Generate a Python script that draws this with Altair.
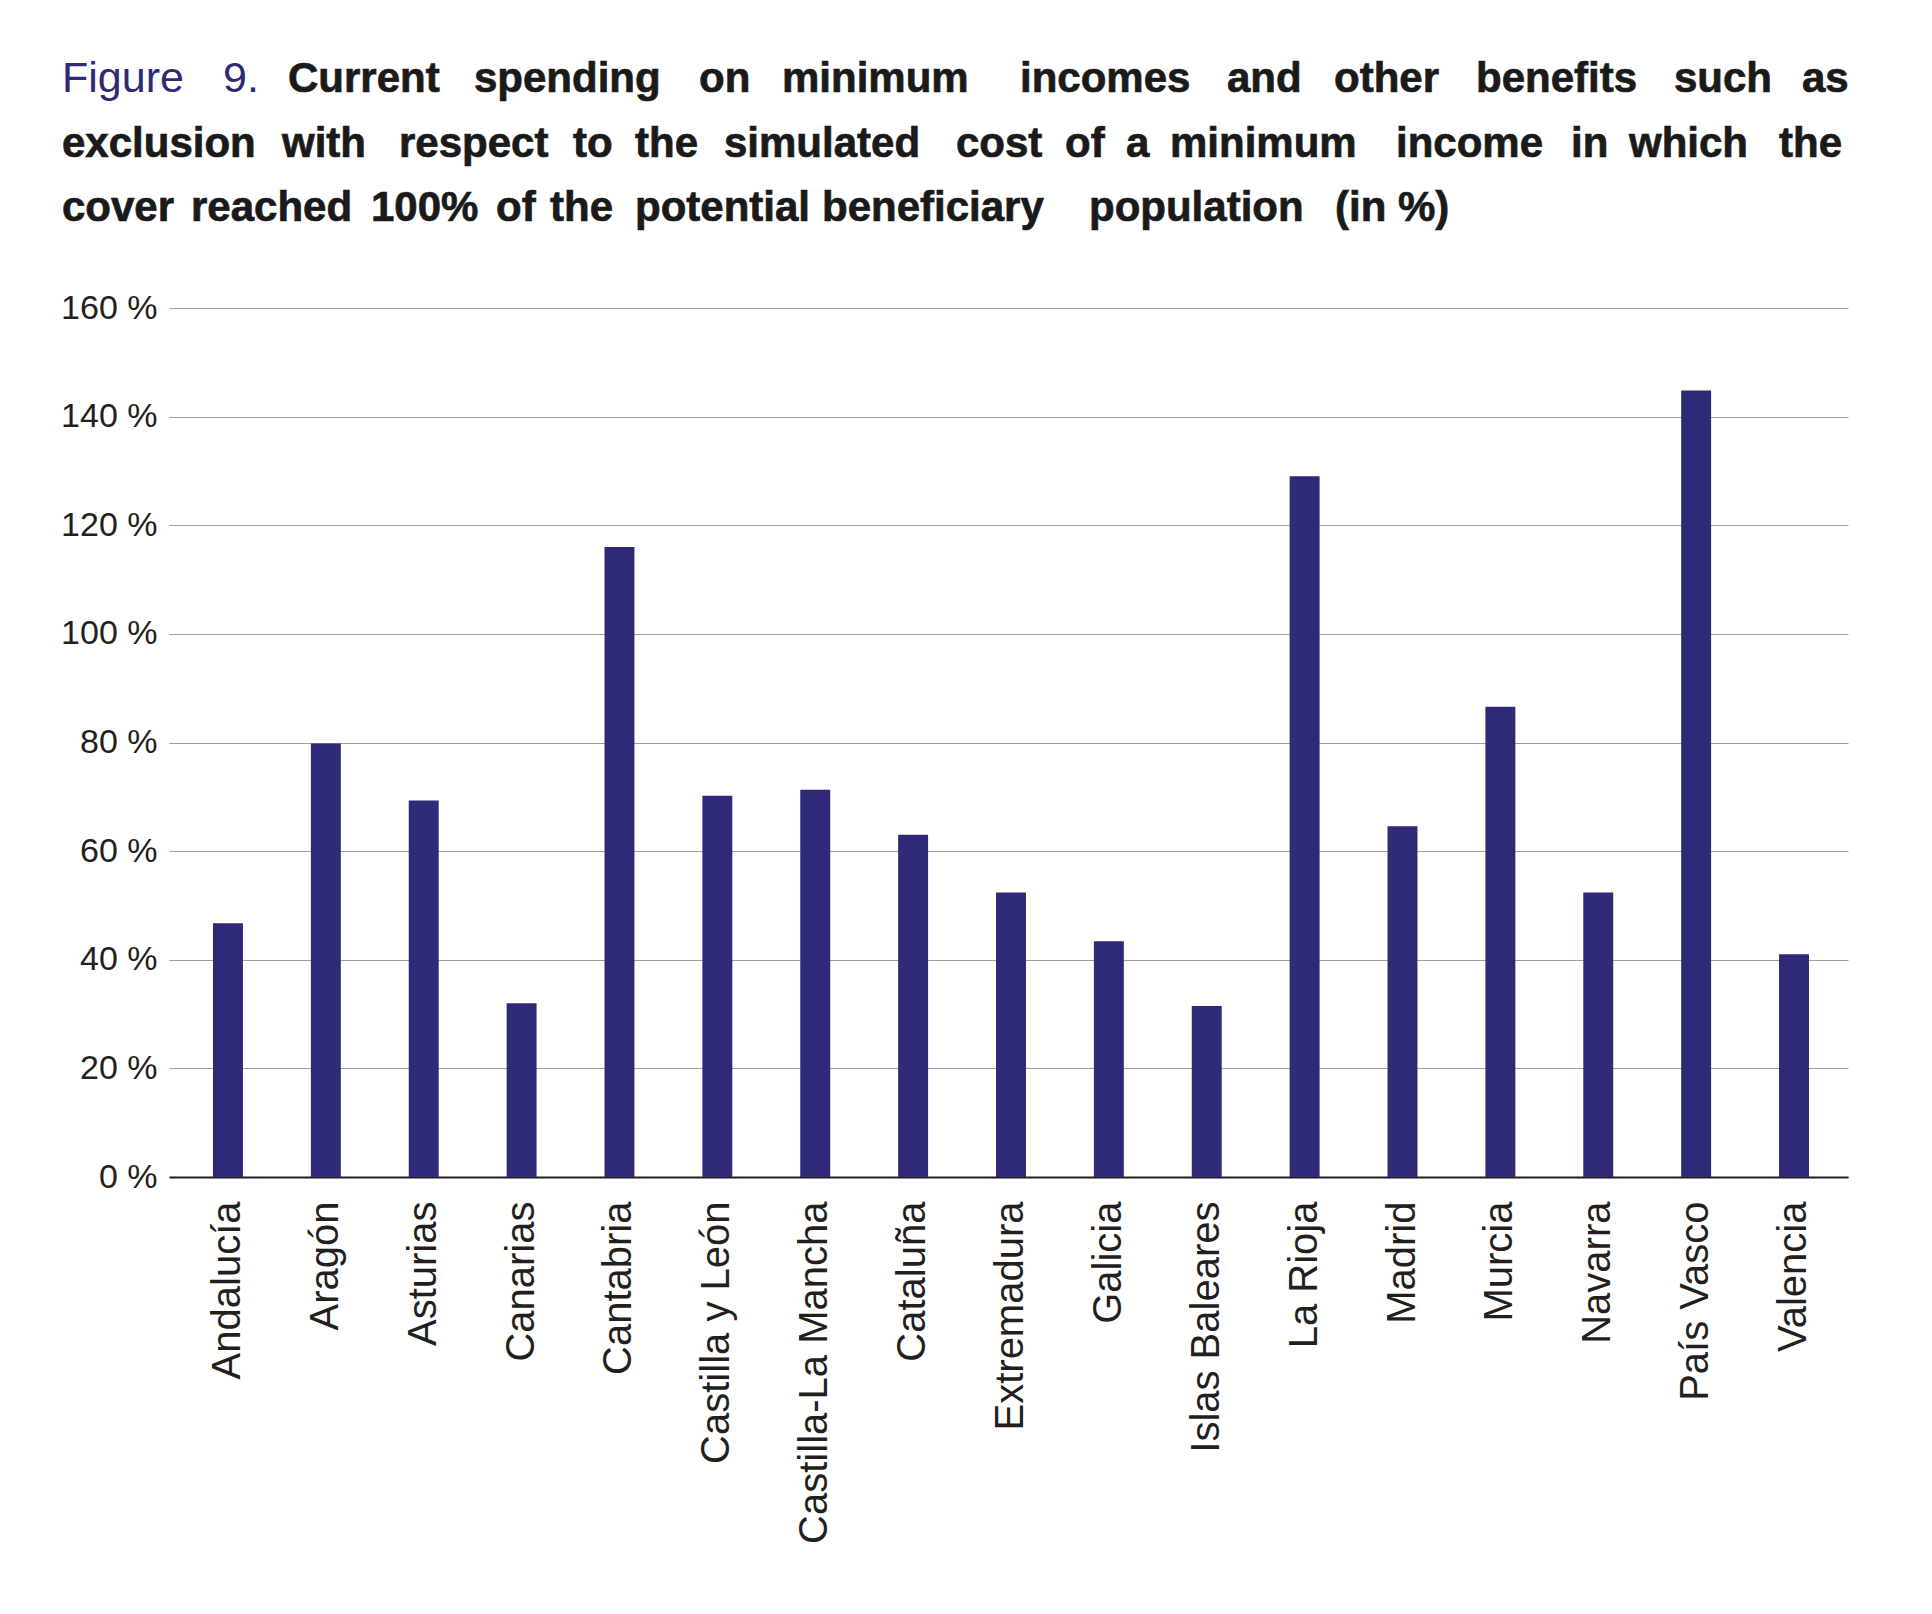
import altair as alt
import pandas as pd

# ---- data ----
regions = ["Andalucía", "Aragón", "Asturias", "Canarias", "Cantabria",
           "Castilla y León", "Castilla-La Mancha", "Cataluña", "Extremadura",
           "Galicia", "Islas Baleares", "La Rioja", "Madrid", "Murcia",
           "Navarra", "País Vasco", "Valencia"]
values = [46.7, 79.8, 69.3, 32.0, 116.0, 70.2, 71.3, 63.0, 52.4, 43.4,
          31.5, 129.0, 64.6, 86.6, 52.4, 144.8, 41.0]
y_ticks = [0, 20, 40, 60, 80, 100, 120, 140, 160]

# ---- title text ----
title_label = ["Figure", "9."]
title_line1 = ["Current", "spending", "on", "minimum", "incomes", "and",
               "other", "benefits", "such", "as"]
title_line2 = ["exclusion", "with", "respect", "to", "the", "simulated", "cost",
               "of", "a", "minimum", "income", "in", "which", "the"]
title_line3 = ["cover", "reached", "100%", "of", "the", "potential",
               "beneficiary", "population", "(in", "%)"]

# ---- layout (justified title: word start positions, page pixels) ----
PLOT_X0, PLOT_Y0 = 169, 308
W, H = 1679, 869
label_pos = [62, 223]
line1_pos = [288, 474, 699, 782, 1020, 1227, 1334, 1476, 1674, 1802]
line2_pos = [62, 282, 399, 573, 635, 724, 956, 1065, 1126, 1170, 1396, 1571, 1629, 1779]
line3_pos = [62, 191, 371, 496, 550, 635, 822, 1089, 1335, 1398]
baselines = [92, 157, 221]

NAVY = "#2e2a78"
FONT = "Liberation Sans, Arial, Helvetica, sans-serif"

df = pd.DataFrame({"region": regions, "value": values})

def words_df(words, pos, base):
    return pd.DataFrame({
        "w": words,
        "px": [p - PLOT_X0 for p in pos],
        "py": [base - PLOT_Y0] * len(words),
    })

bold_words = pd.concat([
    words_df(title_line1, line1_pos, baselines[0]),
    words_df(title_line2, line2_pos, baselines[1]),
    words_df(title_line3, line3_pos, baselines[2]),
], ignore_index=True)
label_words = words_df(title_label, label_pos, baselines[0])

bars = alt.Chart(df).mark_bar(color=NAVY).encode(
    x=alt.X("region:N", sort=regions, title=None,
            scale=alt.Scale(paddingInner=0.694, paddingOuter=0.424, align=0.53),
            axis=alt.Axis(labelAngle=270, labelFontSize=40, labelFont=FONT,
                          labelColor="#231f20", ticks=False, labelPadding=24,
                          domainColor="#231f20", domainWidth=2,
                          labelLimit=600, grid=False)),
    y=alt.Y("value:Q", title=None,
            scale=alt.Scale(domain=[0, 160], nice=False),
            axis=alt.Axis(values=y_ticks, labelExpr="datum.value + ' %'",
                          labelFontSize=34, labelFont=FONT, labelColor="#231f20",
                          labelPadding=12, ticks=False, domain=False,
                          grid=True, gridColor="#9f9f9f", gridWidth=1.2)),
)

title_bold = alt.Chart(bold_words).mark_text(
    align="left", baseline="alphabetic", font=FONT, fontSize=42,
    fontWeight="bold", color="#1a1a1a", stroke="#1a1a1a", strokeWidth=0.7
).encode(
    x=alt.X("px:Q", scale=None, axis=None),
    y=alt.Y("py:Q", scale=None, axis=None),
    text="w:N",
)

title_label_mark = alt.Chart(label_words).mark_text(
    align="left", baseline="alphabetic", font=FONT, fontSize=43,
    fontWeight="normal", color=NAVY
).encode(
    x=alt.X("px:Q", scale=None, axis=None),
    y=alt.Y("py:Q", scale=None, axis=None),
    text="w:N",
)

chart = alt.layer(bars, title_bold, title_label_mark).resolve_scale(
    x="independent", y="independent"
).properties(
    width=W, height=H,
    autosize=alt.AutoSizeParams(type="none"),
    padding={"left": PLOT_X0 - 8, "top": PLOT_Y0 - 8, "right": 70, "bottom": 410},
    background="white",
).configure_view(stroke=None)

chart.save("out.html", embed_options={"renderer": "svg", "actions": False})
